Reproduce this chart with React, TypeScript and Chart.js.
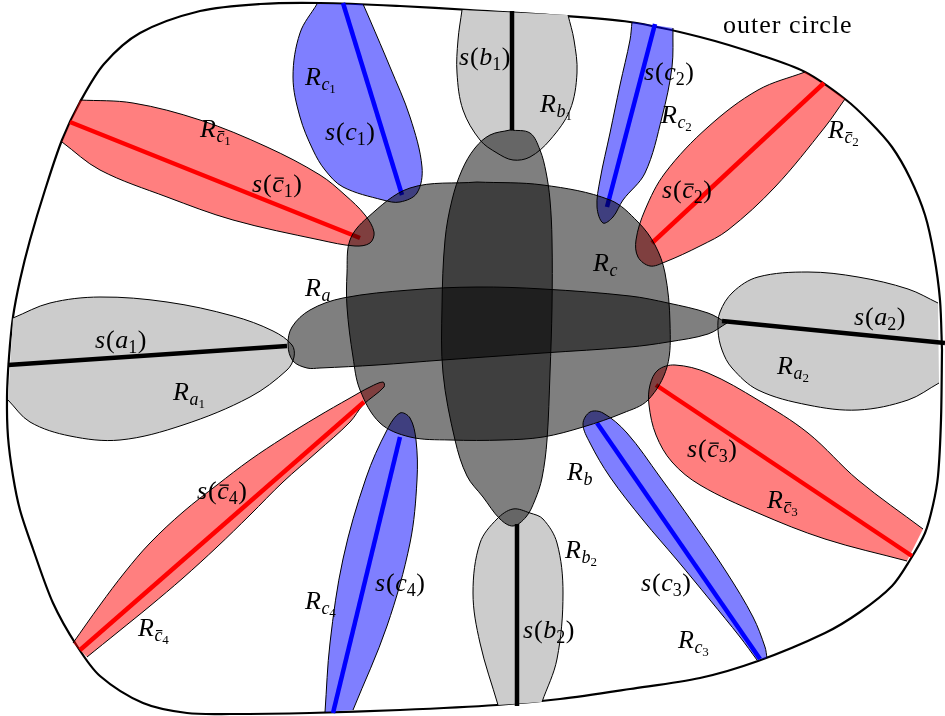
import React, { useEffect, useRef } from 'react';
import { Chart, registerables } from 'chart.js';

Chart.register(...registerables);

type P = [number, number];

// ---- outer boundary ("outer circle") ----
const outerCircle: P[] = [
  [942, 350], [941, 420], [938, 476], [933, 505], [925, 533], [910, 560], [892, 586], [860, 612],
  [825, 633], [758, 661], [700, 678], [630, 689], [560, 699], [497, 705], [400, 710], [310, 713],
  [230, 714], [187, 713], [143, 703], [100, 676], [77, 646], [53, 603], [33, 549], [20, 510],
  [13, 476], [8, 437], [7, 397], [9, 357], [13, 317], [20, 280], [30, 240], [45, 190], [62, 140],
  [80, 102], [104, 64], [140, 33], [200, 11], [260, 4], [320, 3], [400, 6], [470, 10], [550, 15],
  [630, 22], [700, 37], [760, 55], [805, 72], [845, 99], [870, 122], [892, 147], [910, 178],
  [925, 215], [934, 255], [940, 300], [942, 350],
];

// ---- central regions ----
const regionRc: P[] = [
  [477, 182], [543, 185], [610, 200], [638, 222], [655, 245], [665, 273], [670, 323], [667, 367],
  [648, 400], [623, 413], [583, 427], [543, 437], [503, 440], [450, 440], [410, 437], [380, 423],
  [360, 390], [353, 357], [347, 307], [347, 273], [350, 240], [367, 218], [410, 188], [477, 182],
];
const regionRa: P[] = [
  [727, 323], [708, 313], [668, 303], [630, 296], [543, 289], [477, 287], [410, 290], [343, 298],
  [310, 310], [292, 327], [288, 345], [293, 361], [307, 368], [320, 368], [377, 365], [443, 360],
  [543, 353], [630, 347], [668, 342], [708, 334], [727, 323],
];
const regionRb: P[] = [
  [510, 130], [530, 133], [540, 150], [546, 172], [550, 200], [552, 240], [552, 307], [550, 373],
  [547, 440], [542, 478], [535, 500], [526, 517], [513, 526], [500, 519], [483, 497], [467, 476],
  [455, 440], [443, 373], [442, 307], [445, 240], [452, 200], [462, 170], [475, 148], [490, 135],
  [510, 130],
];

// ---- petals (gray) ----
const petalA1: P[] = [
  [13, 318], [50, 303], [100, 297], [167, 302], [233, 316], [273, 331], [292, 345], [294, 357],
  [287, 370], [250, 397], [183, 425], [120, 440], [70, 436], [30, 422], [8, 400],
];
const petalA2: P[] = [
  [938, 303], [908, 289], [858, 277], [808, 272], [758, 277], [733, 292], [720, 312], [718, 330],
  [722, 350], [732, 368], [758, 390], [808, 405], [858, 410], [908, 400], [939, 383],
];
const petalB1: P[] = [
  [462, 10], [458, 40], [457, 73], [463, 110], [480, 140], [497, 153], [513, 160], [530, 157],
  [550, 140], [570, 110], [577, 73], [574, 40], [568, 15],
];
const petalB2: P[] = [
  [498, 705], [480, 643], [473, 593], [480, 543], [497, 519], [513, 509], [530, 513], [543, 519],
  [557, 543], [563, 593], [557, 659], [542, 702],
];

// ---- petals (red) ----
const petalC1bar: P[] = [
  [80, 100], [133, 103], [200, 120], [267, 147], [320, 175], [345, 195], [365, 215], [374, 232],
  [370, 243], [355, 246], [320, 240], [233, 220], [167, 197], [100, 170], [62, 142],
];
const petalC2bar: P[] = [
  [805, 72], [758, 90], [708, 127], [665, 173], [645, 210], [636, 240], [638, 257], [650, 266],
  [665, 262], [700, 246], [728, 230], [775, 187], [825, 127], [845, 99],
];
const petalC3bar: P[] = [
  [923, 529], [858, 480], [808, 433], [758, 400], [708, 373], [675, 365], [658, 370], [650, 385],
  [649, 405], [656, 435], [672, 462], [700, 485], [758, 513], [825, 539], [907, 561],
];
const petalC4bar: P[] = [
  [73, 643], [100, 605], [125, 572], [150, 543], [183, 512], [217, 485], [250, 460], [283, 438],
  [317, 417], [350, 398], [370, 387], [383, 382], [384, 387], [363, 405], [350, 422], [317, 452],
  [283, 482], [250, 515], [217, 547], [183, 578], [150, 606], [118, 632], [87, 657],
];

// ---- petals (blue) ----
const petalC1: P[] = [
  [317, 4], [300, 33], [293, 77], [300, 117], [313, 150], [325, 170], [343, 187], [383, 200],
  [400, 202], [417, 193], [422, 167], [410, 117], [390, 67], [370, 20], [363, 4],
];
const petalC2: P[] = [
  [632, 22], [630, 40], [620, 85], [610, 133], [600, 180], [597, 207], [603, 223], [613, 217],
  [623, 200], [645, 173], [662, 117], [672, 67], [673, 28],
];
const petalC3: P[] = [
  [757, 660], [740, 637], [710, 600], [677, 560], [643, 520], [610, 477], [590, 443], [583, 424],
  [590, 412], [603, 413], [627, 433], [660, 477], [693, 523], [727, 573], [753, 617], [765, 647],
  [767, 658],
];
const petalC4: P[] = [
  [325, 712], [330, 643], [343, 559], [366, 478], [387, 430], [400, 413], [410, 418], [416, 440],
  [417, 480], [410, 543], [387, 626], [353, 710],
];

// ---- spines s(.) ----
const spineA1: P[] = [[8, 365], [287, 346]];
const spineA2: P[] = [[722, 321], [945, 343]];
const spineB1: P[] = [[512, 11], [512, 130]];
const spineB2: P[] = [[517, 524], [517, 706]];
const spineC1: P[] = [[343, 3], [402, 195]];
const spineC2: P[] = [[655, 24], [607, 207]];
const spineC3: P[] = [[597, 423], [760, 659]];
const spineC4: P[] = [[400, 437], [333, 713]];
const spineC1bar: P[] = [[70, 122], [360, 238]];
const spineC2bar: P[] = [[824, 83], [652, 243]];
const spineC3bar: P[] = [[656, 385], [912, 556]];
const spineC4bar: P[] = [[80, 650], [364, 402]];

// ---- labels ----
type Lbl = { base: 'R' | 's'; sym: string; bar: boolean; idx: string; x: number; y: number };
const labels: Lbl[] = [
  { base: 'R', sym: 'c', bar: true, idx: '1', x: 200, y: 137 },
  { base: 's', sym: 'c', bar: true, idx: '1', x: 252, y: 192 },
  { base: 'R', sym: 'c', bar: false, idx: '1', x: 305, y: 85 },
  { base: 's', sym: 'c', bar: false, idx: '1', x: 325, y: 140 },
  { base: 's', sym: 'b', bar: false, idx: '1', x: 459, y: 65 },
  { base: 'R', sym: 'b', bar: false, idx: '1', x: 540, y: 112 },
  { base: 's', sym: 'c', bar: false, idx: '2', x: 644, y: 80 },
  { base: 'R', sym: 'c', bar: false, idx: '2', x: 661, y: 123 },
  { base: 'R', sym: 'c', bar: true, idx: '2', x: 828, y: 138 },
  { base: 's', sym: 'c', bar: true, idx: '2', x: 662, y: 198 },
  { base: 'R', sym: 'c', bar: false, idx: '', x: 593, y: 271 },
  { base: 'R', sym: 'a', bar: false, idx: '', x: 305, y: 296 },
  { base: 's', sym: 'a', bar: false, idx: '1', x: 95, y: 348 },
  { base: 'R', sym: 'a', bar: false, idx: '1', x: 173, y: 400 },
  { base: 's', sym: 'a', bar: false, idx: '2', x: 854, y: 325 },
  { base: 'R', sym: 'a', bar: false, idx: '2', x: 777, y: 374 },
  { base: 's', sym: 'c', bar: true, idx: '3', x: 687, y: 457 },
  { base: 'R', sym: 'c', bar: true, idx: '3', x: 767, y: 508 },
  { base: 'R', sym: 'b', bar: false, idx: '', x: 567, y: 480 },
  { base: 'R', sym: 'b', bar: false, idx: '2', x: 565, y: 558 },
  { base: 's', sym: 'c', bar: false, idx: '4', x: 375, y: 591 },
  { base: 'R', sym: 'c', bar: false, idx: '4', x: 305, y: 609 },
  { base: 's', sym: 'c', bar: false, idx: '3', x: 641, y: 591 },
  { base: 'R', sym: 'c', bar: false, idx: '3', x: 678, y: 648 },
  { base: 's', sym: 'c', bar: true, idx: '4', x: 197, y: 499 },
  { base: 'R', sym: 'c', bar: true, idx: '4', x: 138, y: 636 },
  { base: 's', sym: 'b', bar: false, idx: '2', x: 523, y: 638 },
];
const titleText = 'outer circle';
const titlePos: P = [723, 33];

const FONT = '"Liberation Serif", "Times New Roman", serif';
const GRAY_FILL = 'rgb(204,204,204)';
const RED_FILL = 'rgba(255,0,0,0.5)';
const BLUE_FILL = 'rgba(0,0,255,0.5)';
const DARK_FILL = 'rgba(0,0,0,0.5)';

const toXY = (pts: P[]) => pts.map(([x, y]) => ({ x, y }));

function drawMath(ctx: CanvasRenderingContext2D, l: Lbl, x: number, y: number) {
  const big = 26, mid = 18, small = 13;
  const it = (s: number) => `italic ${s}px ${FONT}`;
  const up = (s: number) => `${s}px ${FONT}`;
  let cx = x;
  const put = (t: string, font: string, dy = 0, gap = 0): [number, number] => {
    ctx.font = font;
    ctx.fillText(t, cx, y + dy);
    const w = ctx.measureText(t).width;
    const s = cx;
    cx += w + gap;
    return [s, w];
  };
  const bar = (sx: number, w: number, topY: number, th: number) => {
    ctx.fillRect(sx + w * 0.2, topY, w * 0.8, th);
  };
  if (l.base === 'R') {
    put('R', it(big), 0, 0.5);
    const [sx, w] = put(l.sym, it(mid), 5, 0);
    if (l.bar) bar(sx, w, y + 5 - mid * 0.5 - 2, 1.1);
    if (l.idx) put(l.idx, up(small), 8);
  } else {
    put('s', it(big), 0, 1);
    put('(', up(big), 0, 0.5);
    const [sx, w] = put(l.sym, it(big), 0, 0);
    if (l.bar) bar(sx, w, y - big * 0.5 - 1.5, 1.3);
    put(l.idx, up(mid), 5, 0.5);
    put(')', up(big), 0);
  }
}

const labelPlugin = {
  id: 'mathLabels',
  afterDatasetsDraw(chart: any) {
    const { ctx, scales } = chart;
    const sx = scales.x, sy = scales.y;
    ctx.save();
    ctx.fillStyle = '#000';
    ctx.textAlign = 'left';
    ctx.textBaseline = 'alphabetic';
    for (const l of labels) {
      drawMath(ctx, l, sx.getPixelForValue(l.x), sy.getPixelForValue(l.y));
    }
    ctx.font = `26px ${FONT}`;
    (ctx as any).letterSpacing = '1px';
    ctx.fillText(titleText, sx.getPixelForValue(titlePos[0]), sy.getPixelForValue(titlePos[1]));
    ctx.restore();
  },
};

export default function App() {
  const ref = useRef<HTMLCanvasElement>(null);
  useEffect(() => {
    document.body.style.margin = '0';
    const layers: any[] = [];
    const area = (pts: P[], fill: string) => ({
      data: toXY(pts), showLine: true, fill: 'shape', backgroundColor: fill,
      borderColor: '#000', borderWidth: 1, tension: 0.35, pointRadius: 0,
    });
    const spine = (pts: P[], color: string) => ({
      data: toXY(pts), showLine: true, fill: false, borderColor: color,
      borderWidth: 4.5, tension: 0, pointRadius: 0, borderCapStyle: 'butt',
    });
    // bottom -> top
    layers.push({
      data: toXY(outerCircle), showLine: true, fill: false, borderColor: '#000',
      borderWidth: 2.2, tension: 0.3, pointRadius: 0,
    });
    [petalA1, petalA2, petalB1, petalB2].forEach((p) => layers.push(area(p, GRAY_FILL)));
    [petalC1bar, petalC2bar, petalC3bar, petalC4bar].forEach((p) => layers.push(area(p, RED_FILL)));
    [petalC1, petalC2, petalC3, petalC4].forEach((p) => layers.push(area(p, BLUE_FILL)));
    [spineA1, spineA2, spineB1, spineB2].forEach((p) => layers.push(spine(p, '#000')));
    [spineC1bar, spineC2bar, spineC3bar, spineC4bar].forEach((p) => layers.push(spine(p, '#ff0000')));
    [spineC1, spineC2, spineC3, spineC4].forEach((p) => layers.push(spine(p, '#0000ff')));
    [regionRc, regionRa, regionRb].forEach((p) => layers.push(area(p, DARK_FILL)));
    const n = layers.length;
    layers.forEach((d, i) => { d.order = n - i; });

    const chart = new Chart(ref.current as HTMLCanvasElement, {
      type: 'scatter',
      data: { datasets: layers },
      options: {
        animation: false,
        responsive: false,
        devicePixelRatio: 1,
        events: [],
        layout: { padding: 0 },
        scales: {
          x: { type: 'linear', min: 0, max: 945, display: false },
          y: { type: 'linear', min: 0, max: 716, reverse: true, display: false },
        },
        plugins: { legend: { display: false }, tooltip: { enabled: false } },
        elements: { point: { radius: 0, hoverRadius: 0 } },
      } as any,
      plugins: [labelPlugin],
    });
    return () => chart.destroy();
  }, []);
  return <canvas ref={ref} width={945} height={716} style={{ display: 'block' }} />;
}
